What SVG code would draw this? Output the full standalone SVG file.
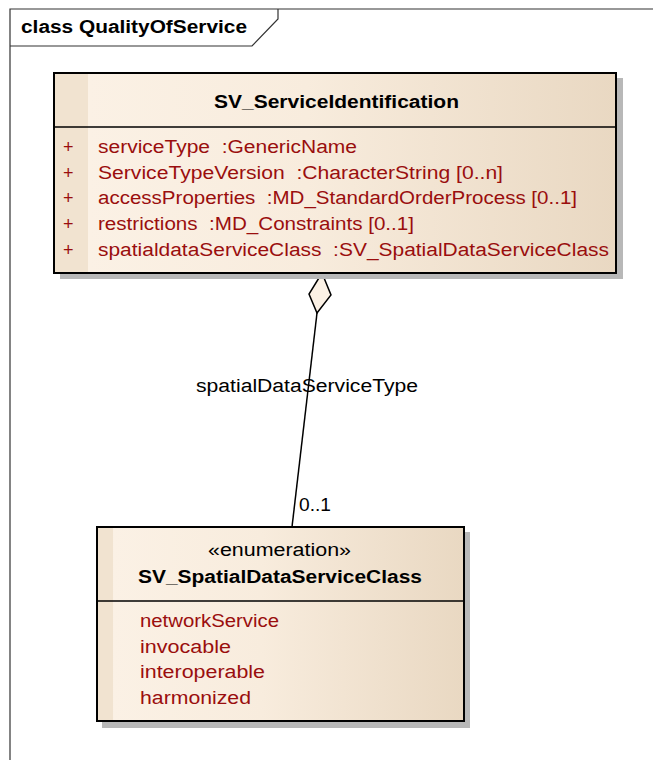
<svg xmlns="http://www.w3.org/2000/svg" width="653" height="760" viewBox="0 0 653 760">
<defs>
<linearGradient id="g1" x1="0" y1="0" x2="1" y2="0">
<stop offset="0" stop-color="#f1e3d0"/>
<stop offset="0.06" stop-color="#f1e3d0"/>
<stop offset="0.061" stop-color="#fbf1e5"/>
<stop offset="0.45" stop-color="#f8ecdd"/>
<stop offset="1" stop-color="#e9d8c2"/>
</linearGradient>
<linearGradient id="g2" x1="0" y1="0" x2="1" y2="0">
<stop offset="0" stop-color="#f1e3d0"/>
<stop offset="0.044" stop-color="#f1e3d0"/>
<stop offset="0.045" stop-color="#fbf1e5"/>
<stop offset="0.45" stop-color="#f8ecdd"/>
<stop offset="1" stop-color="#e9d8c2"/>
</linearGradient>
</defs>
<style>
.frame{fill:none;stroke:#333;stroke-width:1.2}
.box{stroke:#000;stroke-width:2}
.shadow{fill:#b8b8b8}
.div{stroke:#000;stroke-width:1.5}
.t{font-family:"Liberation Sans",Arial,sans-serif;font-size:18px;white-space:pre}
.b{font-family:"Liberation Sans",Arial,sans-serif;font-size:18px;font-weight:bold;fill:#000}
.attr{fill:#9a0e0e}
.lbl{fill:#000}
.conn{stroke:#000;stroke-width:1.5;fill:none}
</style>
<g id="frame">
<path class="frame" d="M10,760 V9 H653"/>
<path class="frame" d="M10,46 H252 L278,19 V9"/>
<text class="b" x="21" y="33" textLength="226" lengthAdjust="spacingAndGlyphs">class QualityOfService</text>
</g>
<g id="connectors">
<line class="conn" x1="317" y1="313" x2="292" y2="527"/>
<polygon points="322,273 331,295 317,313 309,294" fill="#fbf1e5" stroke="#000" stroke-width="1.5"/>
<text class="t lbl" x="196" y="392" textLength="222" lengthAdjust="spacingAndGlyphs">spatialDataServiceType</text>
<text class="t lbl" x="299" y="511" textLength="32" lengthAdjust="spacingAndGlyphs">0..1</text>
</g>
<g id="SV_ServiceIdentification">
<rect class="shadow" x="60" y="78" width="563" height="201"/>
<rect class="box" x="54" y="73" width="562" height="200" fill="url(#g1)"/>
<line class="div" x1="54" y1="127" x2="616" y2="127"/>
<text class="b" x="214" y="108" textLength="245" lengthAdjust="spacingAndGlyphs">SV_ServiceIdentification</text>
<g class="t attr">
<text x="63" y="153">+</text>
<text x="63" y="179">+</text>
<text x="63" y="204">+</text>
<text x="63" y="230">+</text>
<text x="63" y="256">+</text>
<text x="98" y="153" textLength="259" lengthAdjust="spacingAndGlyphs" xml:space="preserve">serviceType  :GenericName</text>
<text x="98" y="179" textLength="405" lengthAdjust="spacingAndGlyphs" xml:space="preserve">ServiceTypeVersion  :CharacterString [0..n]</text>
<text x="98" y="204" textLength="479" lengthAdjust="spacingAndGlyphs" xml:space="preserve">accessProperties  :MD_StandardOrderProcess [0..1]</text>
<text x="98" y="230" textLength="316" lengthAdjust="spacingAndGlyphs" xml:space="preserve">restrictions  :MD_Constraints [0..1]</text>
<text x="98" y="256" textLength="511" lengthAdjust="spacingAndGlyphs" xml:space="preserve">spatialdataServiceClass  :SV_SpatialDataServiceClass</text>
</g>
</g>
<g id="SV_SpatialDataServiceClass">
<rect class="shadow" x="102" y="532" width="368" height="196"/>
<rect class="box" x="97" y="527" width="367" height="194" fill="url(#g2)"/>
<line class="div" x1="97" y1="601" x2="464" y2="601"/>
<text class="t lbl" x="208" y="556" textLength="143" lengthAdjust="spacingAndGlyphs">«enumeration»</text>
<text class="b" x="138" y="583" textLength="284" lengthAdjust="spacingAndGlyphs">SV_SpatialDataServiceClass</text>
<g class="t attr">
<text x="140" y="627" textLength="139" lengthAdjust="spacingAndGlyphs">networkService</text>
<text x="140" y="653" textLength="91" lengthAdjust="spacingAndGlyphs">invocable</text>
<text x="140" y="678" textLength="125" lengthAdjust="spacingAndGlyphs">interoperable</text>
<text x="140" y="704" textLength="111" lengthAdjust="spacingAndGlyphs">harmonized</text>
</g>
</g>
</svg>
